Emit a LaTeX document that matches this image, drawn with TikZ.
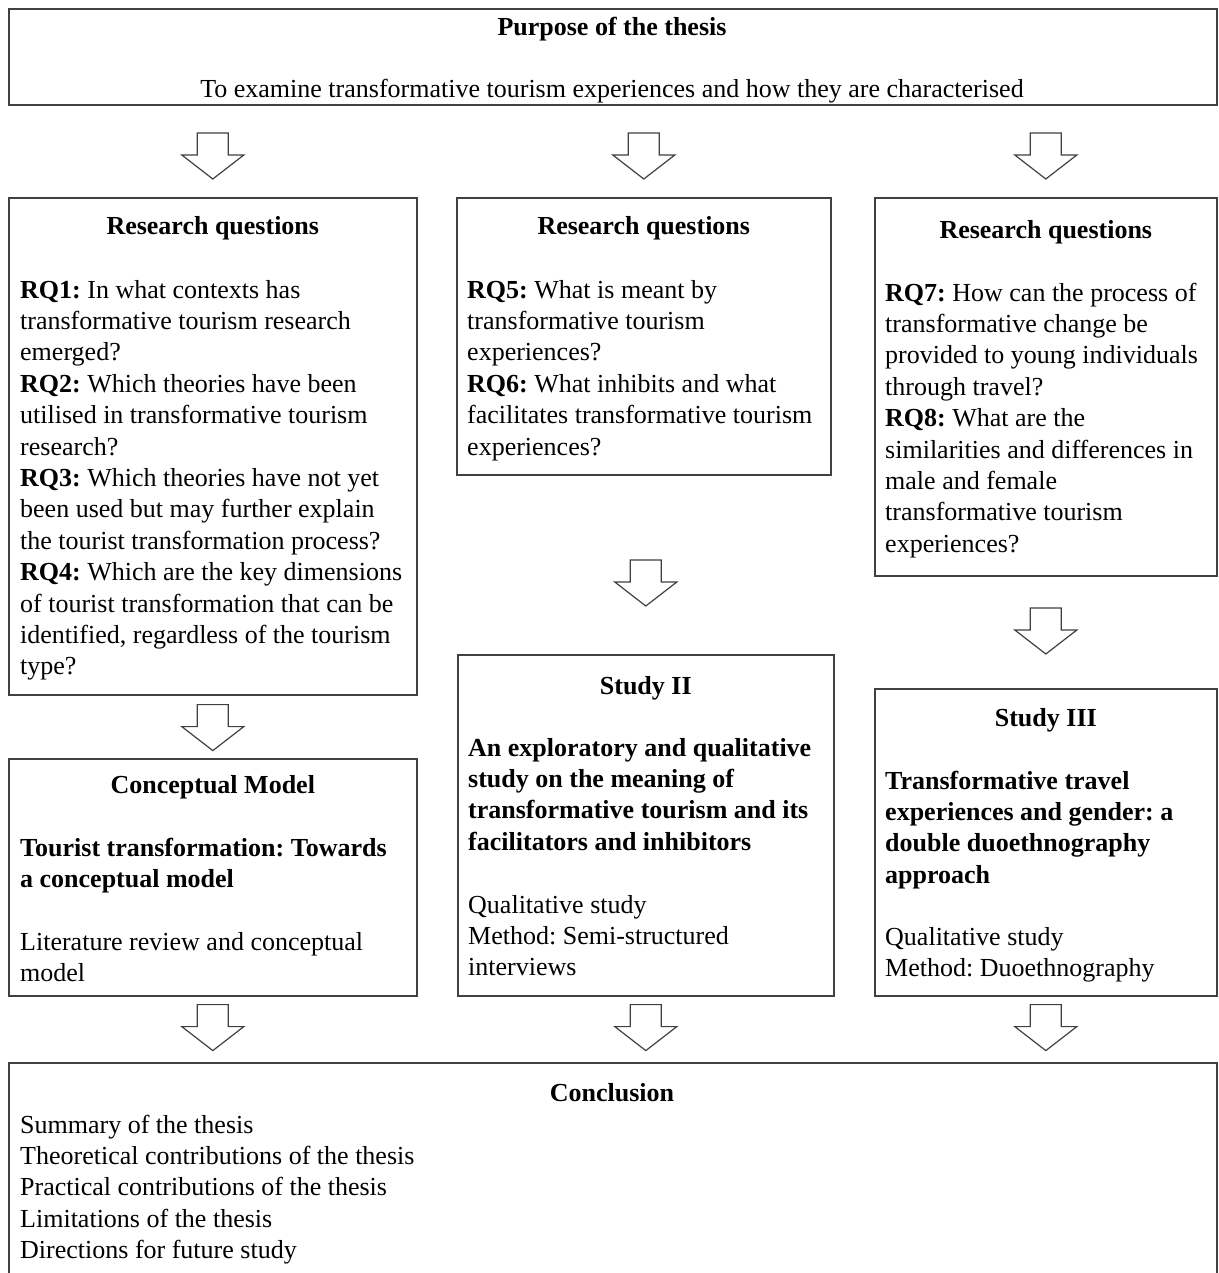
\documentclass[tikz,border=0pt]{standalone}
\usepackage{fontspec}
\setmainfont{Liberation Serif}
\usetikzlibrary{calc}
\frenchspacing

\tikzset{
  box/.style={draw=black!75, line width=1.6pt, rectangle, inner sep=0pt, anchor=north west},
  arrowline/.style={draw=black!75, line width=1.2pt, fill=white, line join=miter},
  blockarrow/.pic={
    \draw[arrowline] (-15.5,0) -- (15.5,0) -- (15.5,22) -- (31,22) -- (0,46)
      -- (-31,22) -- (-15.5,22) -- cycle;
  },
  txt/.style={inner sep=0pt, anchor=base west, font=\fontsize{26}{31.4}\selectfont\frenchspacing},
  ttl/.style={inner sep=0pt, anchor=base, font=\fontsize{26}{31.4}\selectfont\bfseries},
}
\newcommand{\para}[2]{\parbox[t]{#1}{\raggedright\frenchspacing #2}}

\begin{document}
\begin{tikzpicture}[x=1pt, y=-1pt]
\useasboundingbox (0,0) rectangle (1218,1273);
\clip (0,0) rectangle (1218,1273);

% frames
\node[box, minimum width=1208pt, minimum height=96pt]  (top)   at (8,8) {};
\node[box, minimum width=408pt,  minimum height=497pt] (rqA)   at (8,197) {};
\node[box, minimum width=374pt,  minimum height=277pt] (rqB)   at (456,197) {};
\node[box, minimum width=342pt,  minimum height=378pt] (rqC)   at (874,197) {};
\node[box, minimum width=408pt,  minimum height=237pt] (cm)    at (8,758) {};
\node[box, minimum width=376pt,  minimum height=341pt] (s2)    at (457,654) {};
\node[box, minimum width=342pt,  minimum height=307pt] (s3)    at (874,688) {};
\node[box, minimum width=1208pt, minimum height=230pt] (concl) at (8,1062) {};

% purpose
\node[ttl] (topT) at (612,36) {Purpose of the thesis};
\node[txt, anchor=base] (topB) at (612,98) {To examine transformative tourism experiences and how they are characterised};

% research questions
\node[ttl] (rqAT) at (rqA.north |- 0,235) {Research questions};
\node[txt] (rqAB) at (20,298) {\para{400pt}{%
\textbf{RQ1:} In what contexts has\\
transformative tourism research\\
emerged?\\
\textbf{RQ2:} Which theories have been\\
utilised in transformative tourism\\
research?\\
\textbf{RQ3:} Which theories have not yet\\
been used but may further explain\\
the tourist transformation process?\\
\textbf{RQ4:} Which are the key dimensions\\
of tourist transformation that can be\\
identified, regardless of the tourism\\
type?}};

\node[ttl] (rqBT) at (rqB.north |- 0,235) {Research questions};
\node[txt] (rqBB) at (467,298) {\para{360pt}{%
\textbf{RQ5:} What is meant by\\
transformative tourism\\
experiences?\\
\textbf{RQ6:} What inhibits and what\\
facilitates transformative tourism\\
experiences?}};

\node[ttl] (rqCT) at (rqC.north |- 0,239) {Research questions};
\node[txt] (rqCB) at (885,301) {\para{330pt}{%
\textbf{RQ7:} How can the process of\\
transformative change be\\
provided to young individuals\\
through travel?\\
\textbf{RQ8:} What are the\\
similarities and differences in\\
male and female\\
transformative tourism\\
experiences?}};

% studies
\node[ttl] (cmT) at (cm.north |- 0,793) {Conceptual Model};
\node[txt] (cmB) at (20,856) {\para{400pt}{\bfseries
Tourist transformation: Towards\\
a conceptual model}};
\node[txt] (cmM) at (20,950) {\para{400pt}{%
Literature review and conceptual\\
model}};

\node[ttl] (s2T) at (s2.north |- 0,694) {Study II};
\node[txt] (s2B) at (468,756) {\para{360pt}{\bfseries
An exploratory and qualitative\\
study on the meaning of\\
transformative tourism and its\\
facilitators and inhibitors}};
\node[txt] (s2M) at (468,913) {\para{360pt}{%
Qualitative study\\
Method: Semi-structured\\
interviews}};

\node[ttl] (s3T) at (s3.north |- 0,726) {Study III};
\node[txt] (s3B) at (885,789) {\para{330pt}{\bfseries
Transformative travel\\
experiences and gender: a\\
double duoethnography\\
approach}};
\node[txt] (s3M) at (885,945) {\para{330pt}{%
Qualitative study\\
Method: Duoethnography}};

% conclusion
\node[ttl] (conT) at (612,1101) {Conclusion};
\node[txt] (conB) at (20,1133) {\para{600pt}{%
Summary of the thesis\\
Theoretical contributions of the thesis\\
Practical contributions of the thesis\\
Limitations of the thesis\\
Directions for future study}};

% block arrows
\pic (a1) at ($(rqA.north)+(0,-64)$) {blockarrow};
\pic (a2) at ($(rqB.north)+(0,-64)$) {blockarrow};
\pic (a3) at ($(rqC.north)+(0,-64)$) {blockarrow};
\pic (a4) at ($(rqA.south)+(0,9)$) {blockarrow};
\pic (a5) at ($(s2.north)+(0,-94)$) {blockarrow};
\pic (a6) at ($(s3.north)+(0,-80)$) {blockarrow};
\pic (a7) at ($(cm.south)+(0,8)$) {blockarrow};
\pic (a8) at ($(s2.south)+(0,8)$) {blockarrow};
\pic (a9) at ($(s3.south)+(0,8)$) {blockarrow};
\end{tikzpicture}
\end{document}
